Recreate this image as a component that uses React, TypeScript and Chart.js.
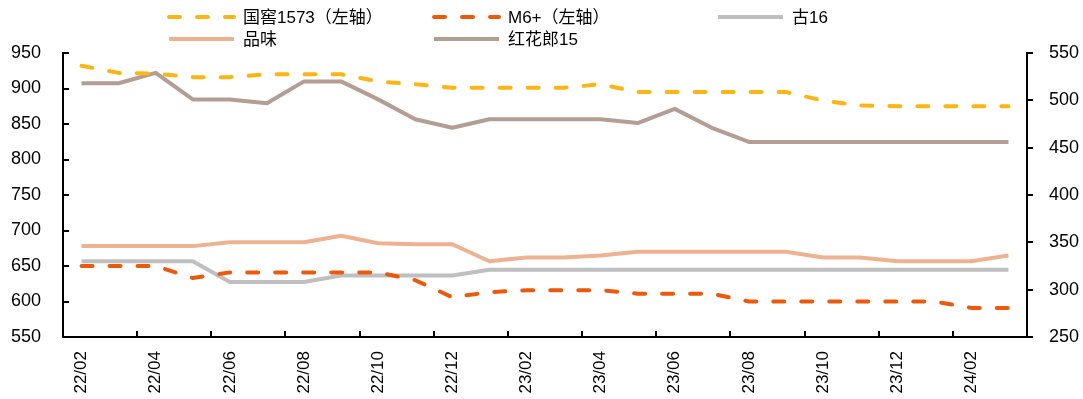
import { useEffect, useRef } from 'react';
import { Chart, registerables } from 'chart.js';

Chart.register(...registerables);

// Monthly price series, 2022/02 – 2024/03
const months = [
  '22/02', '22/03', '22/04', '22/05', '22/06', '22/07', '22/08', '22/09', '22/10', '22/11', '22/12',
  '23/01', '23/02', '23/03', '23/04', '23/05', '23/06', '23/07', '23/08', '23/09', '23/10', '23/11', '23/12',
  '24/01', '24/02', '24/03',
];

// Left axis
const guojiao1573 = [932, 922, 921, 916, 916, 920, 920, 920, 910, 906, 901, 901, 901, 901, 906, 895, 895, 895, 895, 895, 883, 876, 875, 875, 875, 875];
const m6Plus = [650, 650, 650, 633, 641, 641, 641, 641, 641, 630, 606, 613, 616, 616, 616, 611, 611, 611, 600, 600, 600, 600, 600, 600, 591, 591];

// Right axis
const gu16 = [330, 330, 330, 330, 308, 308, 308, 315, 315, 315, 315, 321, 321, 321, 321, 321, 321, 321, 321, 321, 321, 321, 321, 321, 321, 321];
const pinWei = [346, 346, 346, 346, 350, 350, 350, 357, 349, 348, 348, 330, 334, 334, 336, 340, 340, 340, 340, 340, 334, 334, 330, 330, 330, 336];
const hongHuaLang15 = [518, 518, 529, 501, 501, 497, 520, 520, 501, 480, 471, 480, 480, 480, 480, 476, 491, 471, 456, 456, 456, 456, 456, 456, 456, 456];

const seriesNames = ['国窖1573（左轴）', 'M6+（左轴）', '古16', '品味', '红花郎15'];

const FONT = '"Liberation Sans", Arial, "Noto Sans CJK SC", sans-serif';

// Legend laid out as a 3-column grid above the plot
const legendSlots = [
  { x: 169, y: 17 },
  { x: 434, y: 17 },
  { x: 718, y: 17 },
  { x: 169, y: 39 },
  { x: 434, y: 39 },
];

const gridLegend = {
  id: 'gridLegend',
  afterDraw(chart: any) {
    const ctx = chart.ctx;
    chart.data.datasets.forEach((ds: any, i: number) => {
      const s = legendSlots[i];
      ctx.save();
      ctx.strokeStyle = ds.borderColor;
      ctx.lineWidth = 4;
      ctx.lineCap = ds.borderDash ? 'round' : 'butt';
      ctx.setLineDash(ds.borderDash || []);
      ctx.beginPath();
      ctx.moveTo(s.x, s.y);
      ctx.lineTo(s.x + 65, s.y);
      ctx.stroke();
      ctx.setLineDash([]);
      ctx.fillStyle = '#000';
      ctx.font = `17px ${FONT}`;
      ctx.textAlign = 'left';
      ctx.textBaseline = 'middle';
      ctx.fillText(ds.label, s.x + 74, s.y + 1);
      ctx.restore();
    });
  },
};

// Short tick marks: on both value axes and at every second category boundary
const axisTicks = {
  id: 'axisTicks',
  afterDraw(chart: any) {
    const { ctx, chartArea, scales } = chart;
    const x = scales.x;
    const yl = scales.yLeft;
    const yr = scales.yRight;
    ctx.save();
    ctx.strokeStyle = '#000';
    ctx.lineWidth = 2;
    const seg = (x1: number, y1: number, x2: number, y2: number) => {
      ctx.beginPath();
      ctx.moveTo(x1, y1);
      ctx.lineTo(x2, y2);
      ctx.stroke();
    };
    yl.ticks.forEach((_t: any, i: number) => {
      const py = Math.round(yl.getPixelForTick(i));
      seg(chartArea.left - 1, py, chartArea.left + 6, py);
    });
    yr.ticks.forEach((_t: any, i: number) => {
      const py = Math.round(yr.getPixelForTick(i));
      seg(chartArea.right - 1, py, chartArea.right + 6, py);
    });
    const half = (x.getPixelForValue(1) - x.getPixelForValue(0)) / 2;
    for (let i = 2; i < months.length; i += 2) {
      const px = Math.round(x.getPixelForValue(i) - half);
      seg(px, chartArea.bottom + 1, px, chartArea.bottom - 6);
    }
    ctx.restore();
  },
};

export default function App() {
  const canvasRef = useRef<HTMLCanvasElement>(null);

  useEffect(() => {
    const canvas = canvasRef.current;
    if (!canvas) return;

    const dashed = [11, 17];
    const line = (label: string, data: number[], color: string, axis: string, dash?: number[]) => ({
      label,
      data,
      yAxisID: axis,
      borderColor: color,
      backgroundColor: color,
      borderWidth: 4,
      borderDash: dash,
      borderCapStyle: dash ? 'round' : 'butt',
      borderJoinStyle: 'round',
      pointRadius: 0,
      tension: 0,
      fill: false,
    });

    const tickFont = { family: FONT, size: 18 };

    const chart = new Chart(canvas, {
      type: 'line',
      data: {
        labels: months,
        datasets: [
          line(seriesNames[0], guojiao1573, '#FBB514', 'yLeft', dashed),
          line(seriesNames[1], m6Plus, '#EB5A0C', 'yLeft', dashed),
          line(seriesNames[2], gu16, '#BFBFBF', 'yRight'),
          line(seriesNames[3], pinWei, '#EDB292', 'yRight'),
          line(seriesNames[4], hongHuaLang15, '#B49D93', 'yRight'),
        ] as any,
      },
      options: {
        responsive: false,
        animation: false,
        layout: { padding: { top: 53, left: 0, right: 0, bottom: 0 } },
        plugins: {
          legend: { display: false },
          tooltip: { enabled: false },
        },
        scales: {
          x: {
            type: 'category',
            offset: true,
            grid: { display: false, drawTicks: false },
            border: { display: true, color: '#000', width: 2 },
            ticks: {
              autoSkip: false,
              minRotation: 90,
              maxRotation: 90,
              padding: 14,
              color: '#000',
              font: { family: FONT, size: 17 },
              callback: (_v: any, i: number) => (i % 2 === 0 ? months[i] : ''),
            },
            afterFit: (s: any) => {
              s.height = 62;
            },
          },
          yLeft: {
            type: 'linear',
            position: 'left',
            min: 550,
            max: 950,
            grid: { display: false, drawTicks: false },
            border: { display: true, color: '#000', width: 2 },
            ticks: { stepSize: 50, padding: 22, color: '#000', font: tickFont },
            afterFit: (s: any) => {
              s.width = 63;
            },
          },
          yRight: {
            type: 'linear',
            position: 'right',
            min: 250,
            max: 550,
            grid: { display: false, drawTicks: false },
            border: { display: true, color: '#000', width: 2 },
            ticks: { stepSize: 50, padding: 22, color: '#000', font: tickFont },
            afterFit: (s: any) => {
              s.width = 56;
            },
          },
        },
      },
      plugins: [gridLegend, axisTicks],
    });

    return () => chart.destroy();
  }, []);

  return (
    <div style={{ position: 'absolute', left: 0, top: 0, width: 1083, height: 399, background: '#fff' }}>
      <canvas ref={canvasRef} width={1083} height={399} style={{ display: 'block' }} />
    </div>
  );
}
